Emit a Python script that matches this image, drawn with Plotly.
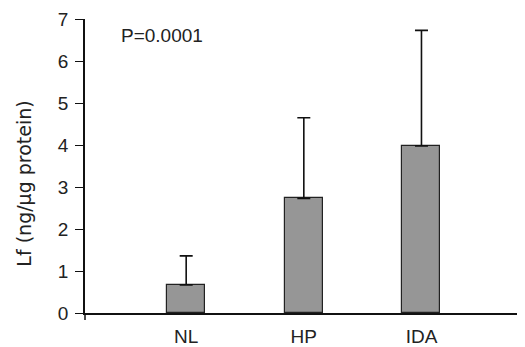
import plotly.graph_objects as go

groups = ["NL", "HP", "IDA"]
means = [0.67, 2.73, 3.98]
sd_upper = [0.69, 1.92, 2.75]
y_tick_vals = [0, 1, 2, 3, 4, 5, 6, 7]
y_title = "Lf (ng/µg protein)"
p_text = "P=0.0001"

FONT = "Liberation Sans, Arial, Helvetica, sans-serif"

fig = go.Figure()
fig.add_trace(go.Bar(
    x=groups, y=means, width=0.323,
    marker=dict(color="#969696", line=dict(color="#222222", width=1.2)),
    error_y=dict(type="data", array=sd_upper, arrayminus=[0] * len(groups),
                 symmetric=False, color="#111111", thickness=1.6, width=6.5),
))

# page body has an 8px margin: figure is placed at (8, 8)
fig.update_layout(
    width=517, height=339,
    margin=dict(l=77, r=0, t=11, b=26),
    paper_bgcolor="white", plot_bgcolor="white",
    showlegend=False,
    font=dict(family=FONT, size=19, color="#222222"),
    bargap=0,
)
fig.update_xaxes(
    range=[-0.86, 2.88], showline=True, linecolor="#111111", linewidth=1.5,
    ticks="", showgrid=False, zeroline=False, ticklabelstandoff=5,
    tickfont=dict(size=19),
)
fig.update_yaxes(
    range=[0, 7], tickvals=y_tick_vals, showline=True, linecolor="#111111",
    linewidth=1.5, ticks="outside", ticklen=8, tickwidth=1.2, tickcolor="#111111",
    showgrid=False, zeroline=False, ticklabelstandoff=3,
    tickfont=dict(size=19),
)
# y-axis title (placed lower than axis centre, as in the reference)
fig.add_annotation(text=y_title, xref="paper", yref="y domain",
                   x=-61 / 440, y=0.44, xanchor="center", yanchor="middle",
                   textangle=-90, showarrow=False,
                   font=dict(family="DejaVu Sans, sans-serif", size=19))
# y-axis line extends slightly below the baseline
fig.add_shape(type="line", xref="x domain", yref="y domain",
              x0=0, x1=0, y0=0, y1=-7 / 294,
              line=dict(color="#111111", width=1.5))
fig.add_annotation(text=p_text, xref="x domain", yref="y domain",
                   x=34 / 440, y=1 - 17 / 294, xanchor="left", yanchor="middle",
                   showarrow=False, font=dict(size=19))

fig.write_html("out.html")
